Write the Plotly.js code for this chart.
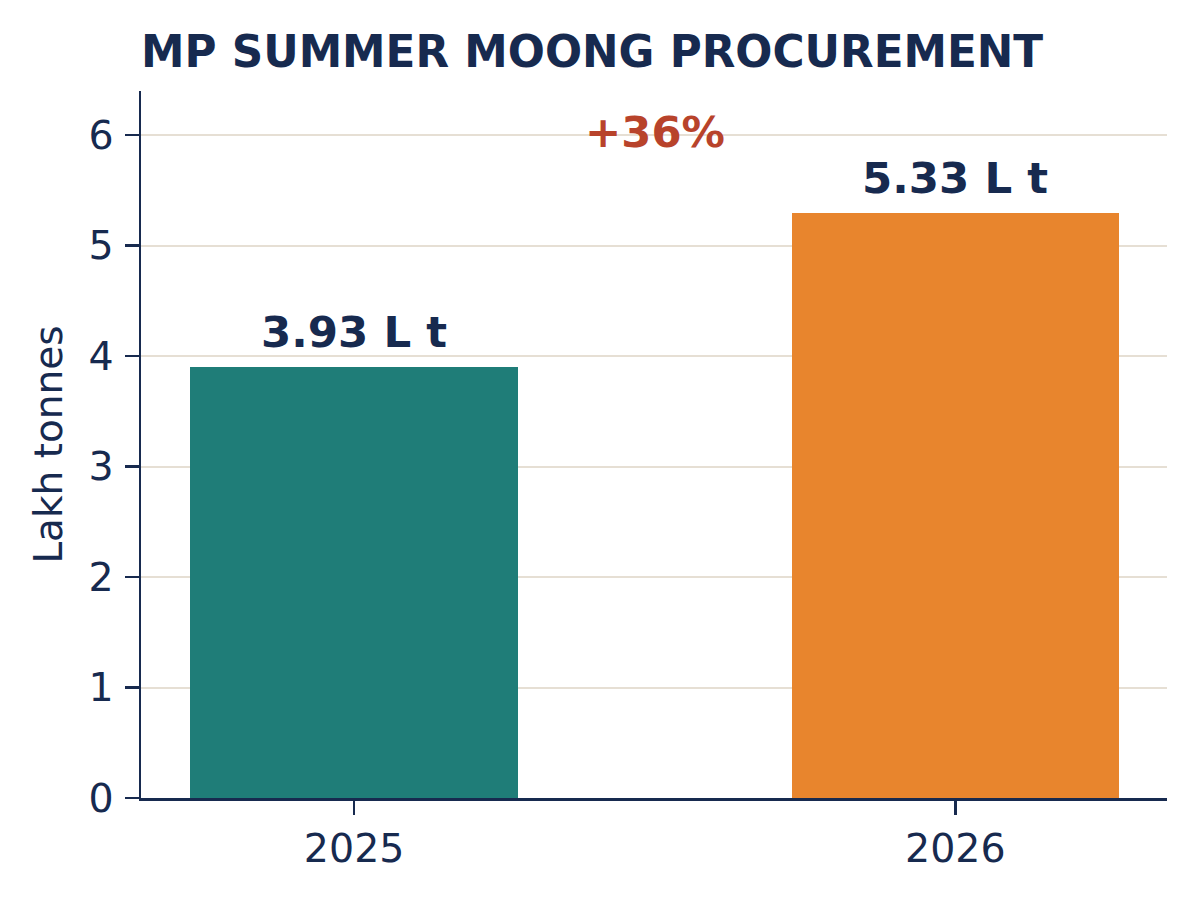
<!DOCTYPE html>
<html>
<head>
<meta charset="utf-8">
<script src="https://cdn.plot.ly/plotly-3.0.1.min.js"></script>
<style>
  body { margin: 0; background: #fff; }
  #chart { width: 1200px; height: 901px; }
</style>
</head>
<body>
<div id="chart"></div>
<script>
// data
var years = ['2025', '2026'];
var procured = [3.9, 5.3];
var barLabels = ['3.93 L t', '5.33 L t'];
var barColors = ['#1f7d78', '#e8852d'];
var growthText = '+36%';
var yTicks = [0, 1, 2, 3, 4, 5, 6];

var navy = '#172a4f';
var font = 'DejaVu Sans, Liberation Sans, sans-serif';

var trace = {
  type: 'bar',
  x: years,
  y: procured,
  width: 0.545,
  marker: { color: barColors, line: { width: 0 } },
  hoverinfo: 'skip'
};

// category axis: annotations use the category index, not the label
var notes = procured.map(function (v, i) {
  return {
    x: i, y: v, xref: 'x', yref: 'y',
    text: '<b>' + barLabels[i] + '</b>',
    showarrow: false, yanchor: 'bottom', yshift: 8,
    font: { family: font, size: 43.5, color: navy }
  };
});
notes.push({
  x: 0.5, y: yTicks[yTicks.length - 1], xref: 'x', yref: 'y',
  text: '<b>' + growthText + '</b>',
  showarrow: false, yanchor: 'middle', yshift: 3,
  font: { family: font, size: 43.3, color: '#b8432b' }
});

var layout = {
  width: 1200,
  height: 901,
  margin: { l: 141, r: 33, t: 91, b: 103 },
  paper_bgcolor: '#ffffff',
  plot_bgcolor: '#ffffff',
  showlegend: false,
  font: { family: font, color: navy },
  title: {
    text: '<b>MP SUMMER MOONG PROCUREMENT</b>',
    font: { family: font, size: 43.7, color: navy },
    xref: 'paper', x: 0, xanchor: 'left',
    yref: 'container', y: 1 - 52 / 901, yanchor: 'middle'
  },
  xaxis: {
    type: 'category',
    range: [-0.3545, 1.352],
    showline: true, linecolor: navy, linewidth: 2.5,
    ticks: 'outside', ticklen: 14, tickwidth: 2.5, tickcolor: navy,
    tickfont: { family: font, size: 39.5, color: navy },
    showgrid: false, zeroline: false, fixedrange: true
  },
  yaxis: {
    range: [0, 6.4],
    tickvals: yTicks,
    showline: true, linecolor: navy, linewidth: 2.5,
    ticks: 'outside', ticklen: 14, tickwidth: 2.5, tickcolor: navy,
    ticklabelstandoff: 3,
    tickfont: { family: font, size: 39.5, color: navy },
    showgrid: true, gridcolor: '#e6dfd4', gridwidth: 2,
    zeroline: false, fixedrange: true,
    title: { text: 'Lakh tonnes', font: { family: font, size: 39, color: navy }, standoff: 14 }
  },
  bargap: 0,
  annotations: notes
};

Plotly.newPlot('chart', [trace], layout, { displayModeBar: false, staticPlot: true });
</script>
</body>
</html>
